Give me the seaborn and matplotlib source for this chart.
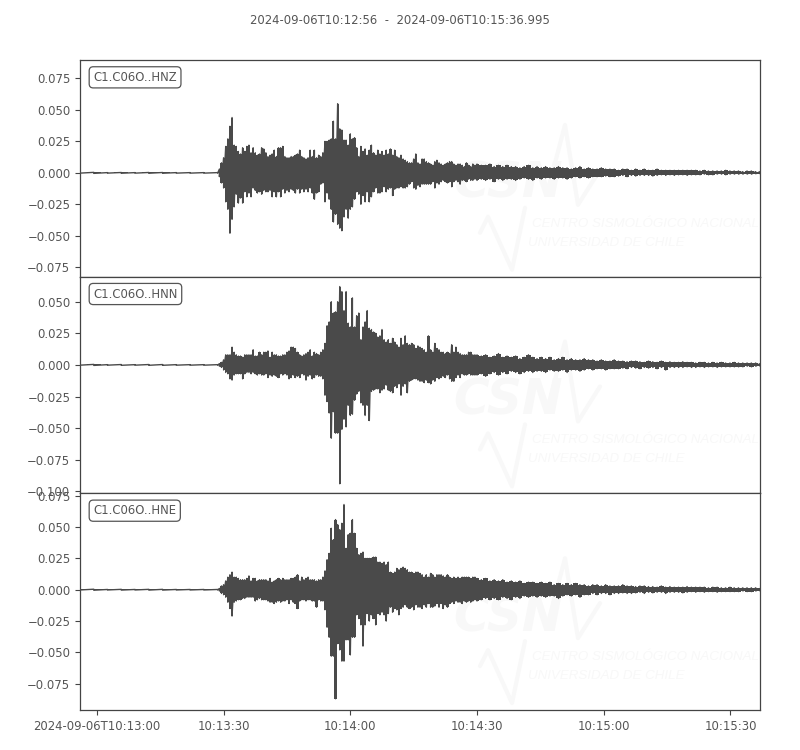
import numpy as np
import pandas as pd
import seaborn as sns
import matplotlib.pyplot as plt

# Envelope of each trace, in units of 0.001
# samples: quiet part, then 122 samples at 0.5 s, then the slow tail
QUIET_UP = [0.2, 0.4, 0.2, 0.3, 0.2, 0.3, 0.3, 0.2, 0.2, 0.2, 0.2]
QUIET_LOW = [0.2, 0.4, 0.2, 0.3, 0.2, 0.3, 0.3, 0.2, 0.2, 0.2, 0.2]

HNZ_UP = [3, 8, 12, 21, 27, 37, 44, 22, 21, 17,
          15, 20, 17, 21, 22, 16, 20, 16, 14, 15,
          20, 19, 16, 13, 14, 15, 18, 13, 20, 20,
          21, 13, 12, 12, 13, 13, 14, 15, 18, 13,
          12, 11, 12, 18, 13, 18, 12, 14, 13, 16,
          25, 25, 26, 27, 41, 27, 55, 35, 34, 26,
          26, 22, 31, 27, 28, 20, 13, 21, 17, 19,
          14, 18, 22, 16, 14, 18, 15, 17, 14, 18,
          15, 19, 14, 18, 13, 12, 14, 11, 10, 9,
          8, 8, 11, 15, 8, 7, 11, 11, 9, 8,
          7, 6, 9, 10, 8, 7, 6, 7, 8, 9,
          9, 7, 6, 7, 7, 6, 5, 8, 6, 5, 7, 6,
          7, 6, 6, 7, 5, 6, 5, 6, 5, 5, 4, 5, 6, 4, 5, 4, 5, 4, 4, 5,
          4, 4, 3, 4, 5, 3, 4, 3, 3, 4, 3, 3, 3, 2, 3, 3, 2, 3, 2, 3,
          2, 2, 3, 2, 2, 2, 2, 2, 2, 2, 2, 2, 1.5, 2, 1.5, 1.5, 1.5, 1.5, 2, 1.5,
          1.5, 1.5, 1, 1.5, 1.5, 1, 1]
HNZ_LOW = [3, 8, 12, 23, 29, 48, 37, 27, 17, 24,
           20, 24, 15, 19, 16, 19, 12, 14, 16, 15,
           17, 14, 15, 15, 14, 19, 15, 19, 15, 19,
           13, 16, 14, 15, 13, 14, 16, 13, 16, 13,
           15, 13, 15, 12, 16, 21, 16, 15, 9, 8,
           23, 16, 21, 29, 39, 33, 41, 44, 46, 35,
           29, 36, 29, 27, 21, 15, 17, 25, 18, 23,
           15, 23, 19, 15, 12, 16, 16, 15, 11, 15,
           13, 12, 18, 13, 12, 12, 11, 12, 12, 11,
           9, 7, 12, 13, 10, 11, 9, 9, 9, 9,
           9, 7, 12, 8, 9, 7, 6, 7, 8, 7,
           11, 7, 6, 7, 9, 6, 6, 7, 5, 6, 6, 5,
           6, 5, 6, 5, 7, 5, 6, 5, 5, 6, 5, 4, 5, 6, 4, 5, 4, 4, 5, 4,
           4, 5, 4, 3, 4, 3, 4, 3, 3, 3, 2.5, 3, 3, 2.5, 2, 3, 2, 2.5, 2, 2,
           2, 2.5, 2, 1.5, 2, 1.5, 2, 1.5, 1.5, 2, 1.5, 1.5, 1.5, 1, 1.5, 1.5, 1, 1, 1.5, 1,
           1, 1, 1, 1, 1, 0.7, 0.7]

HNN_UP = [1, 2, 4, 8, 8, 8, 14, 10, 8, 7,
          7, 6, 8, 8, 8, 8, 12, 7, 7, 10,
          8, 10, 10, 11, 6, 10, 8, 8, 7, 7,
          8, 8, 10, 11, 14, 14, 13, 10, 8, 7,
          8, 9, 10, 12, 7, 10, 9, 8, 10, 12,
          17, 31, 34, 50, 41, 42, 50, 62, 58, 43,
          58, 33, 30, 53, 30, 39, 41, 20, 30, 34,
          43, 29, 28, 26, 25, 22, 23, 28, 20, 18,
          20, 17, 21, 18, 16, 14, 21, 16, 23, 17,
          16, 17, 16, 13, 15, 14, 13, 12, 10, 23,
          12, 10, 17, 13, 12, 10, 10, 9, 10, 9,
          16, 10, 14, 10, 9, 8, 8, 8, 10, 10, 8, 8,
          8, 7, 8, 6, 7, 9, 6, 7, 6, 7, 5, 6, 8, 6, 5, 6, 5, 6, 4, 5,
          6, 4, 5, 4, 4, 5, 4, 4, 3, 4, 3, 3, 4, 3, 3, 2.5, 3, 3, 2.5, 2,
          3, 2.5, 2, 3, 2, 2.5, 2, 2, 2.5, 2, 2, 1.5, 2, 2, 1.5, 2, 1.5, 2, 1.5, 1.5,
          2, 1.5, 1.5, 1.5, 1.5, 1.5, 1]
HNN_LOW = [1, 2, 4, 6, 7, 11, 12, 8, 7, 7,
           7, 11, 7, 6, 6, 7, 6, 7, 8, 7,
           8, 8, 7, 10, 8, 9, 8, 9, 10, 7,
           8, 7, 8, 11, 10, 8, 10, 9, 10, 7,
           8, 12, 9, 8, 11, 10, 8, 9, 9, 11,
           24, 29, 38, 58, 37, 54, 54, 94, 51, 43,
           49, 32, 40, 39, 28, 23, 21, 30, 32, 40,
           32, 44, 21, 20, 19, 19, 22, 20, 19, 16,
           20, 21, 22, 17, 18, 15, 24, 17, 15, 22,
           13, 12, 11, 11, 12, 13, 13, 14, 12, 14,
           15, 12, 13, 10, 11, 10, 9, 10, 8, 11,
           13, 13, 10, 8, 10, 7, 8, 8, 7, 8, 8, 8,
           8, 7, 9, 7, 6, 8, 6, 7, 5, 6, 7, 6, 5, 6, 5, 5, 6, 4, 5, 5,
           4, 6, 4, 4, 5, 4, 3, 4, 3, 3, 4, 3, 3, 3, 2.5, 3, 2, 2.5, 3, 2,
           2.5, 2, 3, 2, 4, 2, 2, 2, 2, 1.5, 2, 2, 1.5, 2, 1.5, 1.5, 2, 1.5, 1.5, 1.5,
           1.5, 1.5, 1.5, 1, 1.5, 1, 1]

HNE_UP = [1, 3, 4, 7, 10, 12, 14, 10, 10, 9,
          8, 8, 8, 9, 11, 7, 9, 9, 7, 8,
          8, 8, 8, 7, 9, 6, 7, 8, 9, 8,
          9, 8, 8, 8, 9, 9, 10, 12, 7, 10,
          8, 9, 10, 8, 8, 8, 7, 8, 8, 10,
          15, 24, 29, 49, 40, 56, 52, 48, 53, 68,
          33, 44, 45, 56, 45, 33, 28, 29, 30, 25,
          25, 25, 25, 26, 26, 22, 22, 21, 22, 20,
          22, 14, 13, 14, 17, 16, 17, 18, 17, 16,
          14, 14, 13, 14, 14, 13, 12, 10, 12, 10,
          13, 12, 10, 12, 12, 12, 11, 10, 12, 10,
          9, 10, 9, 10, 9, 10, 10, 10, 10, 9, 10, 10,
          9, 8, 9, 7, 8, 7, 8, 6, 7, 6, 7, 5, 6, 6, 5, 6, 5, 6, 4, 5,
          4, 5, 4, 5, 4, 4, 3, 4, 4, 3, 4, 3, 3, 3, 4, 3, 3, 2.5, 3, 3,
          2.5, 2.5, 2, 3, 2, 2.5, 2, 2, 2, 2.5, 2, 2, 2, 2, 1.5, 2, 2, 1.5, 1.5, 2,
          1.5, 1.5, 1.5, 1.5, 1.5, 1.5, 1]
HNE_LOW = [1, 3, 4, 6, 10, 15, 21, 10, 9, 8,
           8, 7, 7, 6, 6, 6, 6, 9, 8, 7,
           8, 8, 8, 9, 10, 10, 11, 10, 9, 10,
           9, 9, 8, 11, 8, 10, 11, 15, 9, 8,
           8, 9, 8, 8, 9, 9, 14, 8, 9, 9,
           16, 30, 38, 53, 53, 87, 43, 48, 57, 57,
           40, 40, 52, 38, 38, 20, 23, 28, 45, 28,
           19, 25, 20, 23, 28, 19, 20, 18, 20, 25,
           19, 14, 18, 15, 16, 20, 15, 14, 12, 14,
           15, 14, 16, 12, 14, 14, 15, 12, 14, 11,
           14, 14, 13, 11, 14, 11, 15, 12, 14, 11,
           10, 11, 9, 10, 10, 11, 9, 10, 9, 10, 9, 8,
           9, 8, 7, 8, 7, 8, 6, 7, 8, 6, 7, 5, 6, 5, 6, 5, 6, 5, 5, 7,
           5, 4, 5, 4, 6, 4, 4, 3, 4, 3, 3, 4, 3, 3, 2.5, 3, 3, 2.5, 2, 3,
           2, 2.5, 2, 2, 3, 2, 2, 2, 2.5, 2, 1.5, 2, 1.5, 2, 1.5, 1.5, 2, 1.5, 1.5, 1.5,
           1.5, 1.5, 1, 1.5, 1.5, 1, 1]

TRACE_NAMES = ['C1.C06O..HNZ', 'C1.C06O..HNN', 'C1.C06O..HNE']
Y_LIMITS = [(-0.0825, 0.0897), (-0.1016, 0.0698), (-0.0960, 0.0769)]
Y_TICKS = [[-0.075, -0.05, -0.025, 0, 0.025, 0.05, 0.075],
           [-0.1, -0.075, -0.05, -0.025, 0, 0.025, 0.05],
           [-0.075, -0.05, -0.025, 0, 0.025, 0.05, 0.075]]
X_TICKS = ['10:13:00', '10:13:30', '10:14:00', '10:14:30', '10:15:00', '10:15:30']
DAY = '2024-09-06'

INK = '#4a4a4a'
TEXT = '#555555'
MARK = '#f8f8f8'
FONT_SIZE = 8.4

sns.set_style('ticks')
plt.rcParams['font.family'] = ['DejaVu Sans']


def sample_times(n):
    # evenly while quiet, 0.5 s through the shaking, evenly over the tail
    start = pd.Timestamp(f'{DAY}T10:12:56')
    quiet = np.linspace(0, 32.6, len(QUIET_UP))
    active = 33 + np.arange(122) * 0.5
    tail = np.linspace(94, 160.995, n - len(quiet) - len(active))
    return start + pd.to_timedelta(np.concatenate([quiet, active, tail]), unit='s')


def draw_trace(ax, up, low):
    up = np.array(QUIET_UP + up) / 1000
    low = -np.array(QUIET_LOW + low) / 1000
    times = sample_times(len(up))
    ax.fill_between(times, low, up, color=INK, lw=0, step='mid', zorder=2)
    # zig-zag between the two envelopes, like a dense waveform
    df = pd.DataFrame({'time': np.repeat(times, 2),
                       'amp': np.column_stack([up, low]).ravel()})
    sns.lineplot(data=df, x='time', y='amp', ax=ax, color=INK, lw=1,
                 sort=False, estimator=None, errorbar=None, zorder=3)


def draw_watermark(ax):
    # faint logo behind the trace, positions in panel pixels
    size = (680, 217)

    def frac(pts):
        pts = np.array(pts, dtype=float)
        return pts[:, 0] / size[0], 1 - pts[:, 1] / size[1]

    for pts in ([(468, 130), (485, 65), (498, 145), (520, 110)],
                [(400, 173), (408, 157), (432, 210), (445, 148)]):
        x, y = frac(pts)
        ax.plot(x, y, transform=ax.transAxes, color=MARK, lw=3, zorder=1)
    ax.text(373 / 680, 1 - 148 / 217, 'CSN', transform=ax.transAxes, color=MARK,
            fontsize=35, fontweight='bold', style='italic', va='bottom', zorder=1)
    for txt, px, py in (('CENTRO SISMOLÓGICO NACIONAL', 452, 164),
                        ('UNIVERSIDAD DE CHILE', 448, 183)):
        ax.text(px / 680, 1 - py / 217, txt, transform=ax.transAxes, color=MARK,
                fontsize=9.6, style='italic', family='Liberation Sans',
                va='center', zorder=1)


fig, axes = plt.subplots(3, 1, figsize=(8, 7.5), dpi=100, sharex=True)
fig.subplots_adjust(left=0.1, right=0.95, top=0.92, bottom=0.0533, hspace=0)

traces = [(HNZ_UP, HNZ_LOW), (HNN_UP, HNN_LOW), (HNE_UP, HNE_LOW)]
for i, ax in enumerate(axes):
    draw_watermark(ax)
    draw_trace(ax, *traces[i])
    ax.set_xlim(pd.Timestamp(f'{DAY}T10:12:56'), pd.Timestamp(f'{DAY}T10:15:36.995'))
    ax.set_ylim(*Y_LIMITS[i])
    ax.set_yticks(Y_TICKS[i])
    ax.set_yticklabels([f'{v:.3f}'.replace('-', '\u2212') for v in Y_TICKS[i]])
    ax.set_xlabel('')
    ax.set_ylabel('')
    ax.tick_params(axis='y', labelsize=FONT_SIZE, colors=TEXT, color='#444444')
    for spine in ax.spines.values():
        spine.set_visible(True)
        spine.set_color('#444444')
        spine.set_linewidth(0.9)
    ax.text(0.0195, 0.92, TRACE_NAMES[i], transform=ax.transAxes, fontsize=FONT_SIZE,
            color=TEXT, va='center', ha='left', zorder=5,
            bbox=dict(boxstyle='round,pad=0.35', fc='white', ec=TEXT, lw=0.9))

for ax in axes[:2]:
    ax.tick_params(axis='x', length=0, labelbottom=False)

axes[2].set_xticks(pd.to_datetime([f'{DAY}T{t}' for t in X_TICKS]))
axes[2].set_xticklabels([f'{DAY}T{X_TICKS[0]}'] + X_TICKS[1:])
axes[2].tick_params(axis='x', labelsize=FONT_SIZE, colors=TEXT, color='#444444')

fig.text(0.5, 1 - 21 / 750, f'{DAY}T10:12:56  -  {DAY}T10:15:36.995',
         ha='center', va='center', fontsize=FONT_SIZE, color=TEXT)

fig.savefig('out.png', dpi=100)
